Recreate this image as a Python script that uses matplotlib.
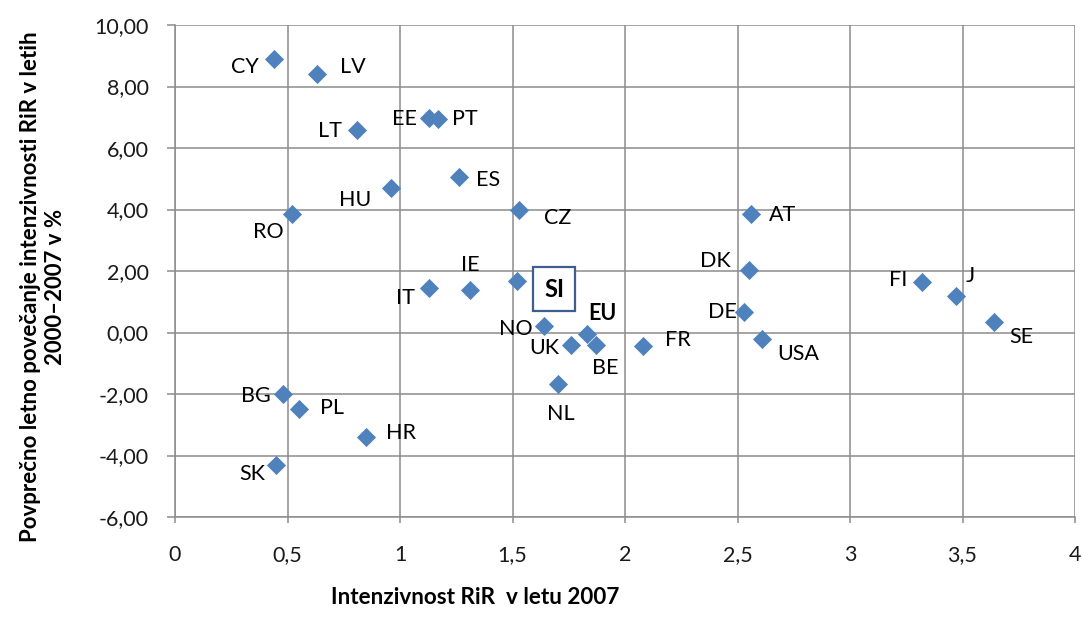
import matplotlib
matplotlib.use("Agg")
from matplotlib import pyplot as plt

plt.rcParams['font.family'] = ['Lato', 'DejaVu Sans']

# data
countries = ['CY', 'LV', 'LT', 'EE', 'PT', 'HU', 'ES', 'RO', 'CZ', 'AT', 'DK', 'FI', 'J', 'SE',
             'DE', 'USA', 'IT', 'IE', 'SI', 'NO', 'EU', 'UK', 'BE', 'FR', 'NL', 'BG', 'PL', 'HR', 'SK']
intensity_2007 = [0.44, 0.63, 0.81, 1.13, 1.17, 0.96, 1.26, 0.52, 1.53, 2.56, 2.55, 3.32, 3.47, 3.64,
                  2.53, 2.61, 1.13, 1.31, 1.52, 1.64, 1.83, 1.76, 1.87, 2.08, 1.70, 0.48, 0.55, 0.85, 0.45]
growth_2000_2007 = [8.89, 8.41, 6.58, 6.98, 6.94, 4.70, 5.06, 3.85, 3.98, 3.85, 2.03, 1.64, 1.19, 0.34,
                    0.67, -0.21, 1.45, 1.38, 1.67, 0.21, -0.05, -0.41, -0.41, -0.44, -1.67, -2.00, -2.49, -3.40, -4.31]

x_ticks = [0, 0.5, 1, 1.5, 2, 2.5, 3, 3.5, 4]
x_tick_labels = ['0', '0,5', '1', '1,5', '2', '2,5', '3', '3,5', '4']
y_ticks = [-6, -4, -2, 0, 2, 4, 6, 8, 10]
y_tick_labels = ['-6,00', '-4,00', '-2,00', '0,00', '2,00', '4,00', '6,00', '8,00', '10,00']

# label offsets in pixels (dx, dy), dy positive = up
offsets = {
    'CY': (-29, -8), 'LV': (36, 7), 'LT': (-27, -1), 'EE': (-25, -1), 'PT': (27, 0),
    'HU': (-36, -12), 'ES': (30, -3), 'RO': (-24, -18), 'CZ': (38, -8), 'AT': (32, -1),
    'DK': (-33, 9), 'FI': (-24, 2), 'J': (14, 20), 'SE': (27, -15), 'DE': (-22, 0),
    'USA': (36, -15), 'IT': (-24, -10), 'IE': (1, 25), 'SI': (37, -8), 'NO': (-28, -3),
    'EU': (16, 21), 'UK': (-27, -3), 'BE': (10, -23), 'FR': (35, 6), 'NL': (3, -30),
    'BG': (-27, -2), 'PL': (33, 1), 'HR': (35, 4), 'SK': (-24, -9),
}

fig = plt.figure(figsize=(10.82, 6.21), dpi=100)
ax = fig.add_axes([175 / 1082, 104 / 621, 900 / 1082, 492 / 621])

ax.scatter(intensity_2007, growth_2000_2007, marker='D', s=95, color='#4F81BD', zorder=3, linewidths=0)

for name, xv, yv in zip(countries, intensity_2007, growth_2000_2007):
    dx, dy = offsets[name]
    if name == 'SI':
        ax.annotate(name, (xv, yv), xytext=(dx, dy), textcoords='offset pixels',
                    ha='center', va='center', fontsize=17, fontweight='bold',
                    bbox=dict(boxstyle='square,pad=0.45', fc='white', ec='#3E5E8E', lw=1.6), zorder=4)
    else:
        ax.annotate(name, (xv, yv), xytext=(dx, dy), textcoords='offset pixels',
                    ha='center', va='center', fontsize=15.5,
                    fontweight='bold' if name == 'EU' else 'normal', zorder=4)

ax.set_xlim(0, 4)
ax.set_ylim(-6, 10)
ax.set_xticks(x_ticks)
ax.set_xticklabels(x_tick_labels, fontsize=15.5)
ax.set_yticks(y_ticks)
ax.set_yticklabels(y_tick_labels, fontsize=15.5)
ax.grid(True, color='#8C8C8C', lw=1.1)
ax.set_axisbelow(True)

for side in ['top', 'right']:
    ax.spines[side].set_visible(False)
for side in ['left', 'bottom']:
    ax.spines[side].set_color('#8C8C8C')
    ax.spines[side].set_linewidth(1.1)

ax.tick_params(axis='x', length=4, width=1.1, color='#8C8C8C', pad=16, labelcolor='#1a1a1a')
ax.tick_params(axis='y', length=6, width=1.1, color='#8C8C8C', pad=13, labelcolor='#1a1a1a')

fig.text(475 / 1082, 1 - 598 / 621, 'Intenzivnost RiR  v letu 2007', ha='center', va='center',
         fontsize=16.2, fontweight='bold')
fig.text(43 / 1082, 1 - 287 / 621, 'Povprečno letno povečanje intenzivnosti RiR v letih\n2000–2007 v %',
         ha='center', va='center', rotation=90, fontsize=16, fontweight='bold', linespacing=1.25)

fig.savefig('out.png', dpi=100)
